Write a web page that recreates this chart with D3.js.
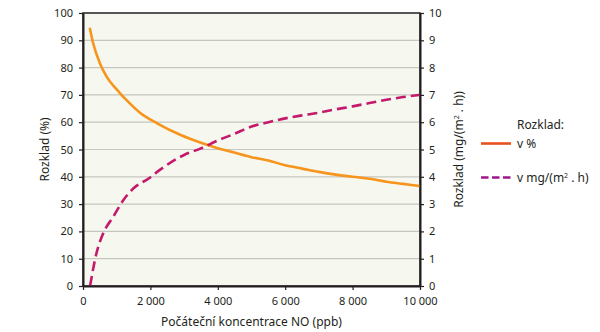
<!DOCTYPE html>
<html>
<head>
<meta charset="utf-8">
<script src="https://cdn.jsdelivr.net/npm/d3@7"></script>
<style>
  body { margin: 0; background: #fff; }
  text { font-family: "Noto Sans", sans-serif; fill: #231f20; }
  .axis text { font-size: 11px; }
  .axis path, .axis line { stroke: #231f20; }
</style>
</head>
<body>
<div id="chart"></div>
<script>
// concentration of NO (ppb) vs decomposition in %
var pctX   = [200, 300, 500, 700, 1000, 1100, 1300, 1700, 2200, 2900, 3500, 4000, 4400, 5000, 5500, 6000, 6500, 7000, 7500, 8000, 8500, 9000, 9500, 10000];
var pctY   = [94.6, 89, 81.6, 76.7, 72, 70.6, 68, 63.4, 59.6, 55.3, 52.5, 50.5, 49.2, 47.2, 46, 44.2, 43, 41.8, 40.8, 40, 39.3, 38.2, 37.4, 36.6];

// same concentrations vs decomposition in mg/(m2.h)
var rateX  = [210, 400, 600, 900, 1200, 1500, 1950, 2300, 3000, 3500, 4000, 4500, 5000, 5500, 6000, 6500, 7000, 7500, 8000, 8500, 9000, 9500, 10000];
var rateY  = [0, 1.2, 1.93, 2.54, 3.15, 3.58, 3.94, 4.27, 4.8, 5.04, 5.33, 5.58, 5.84, 6.0, 6.14, 6.25, 6.35, 6.47, 6.58, 6.7, 6.82, 6.92, 7.0];

var xTicks     = [0, 2000, 4000, 6000, 8000, 10000];
var leftTicks  = [0, 10, 20, 30, 40, 50, 60, 70, 80, 90, 100];
var rightTicks = [0, 1, 2, 3, 4, 5, 6, 7, 8, 9, 10];

var width = 600, height = 332;
var margin = {top: 13, right: 180, bottom: 46, left: 83};

var svg = d3.select("#chart").append("svg")
    .attr("width", width)
    .attr("height", height);

var x = d3.scaleLinear().domain([0, 10000]).range([margin.left, width - margin.right]);
var yL = d3.scaleLinear().domain([0, 100]).range([height - margin.bottom, margin.top]);
var yR = d3.scaleLinear().domain([0, 10]).range([height - margin.bottom, margin.top]);

var fmt = function(d) { return d3.format(",")(d).replace(/,/g, " "); };

// plot background
svg.append("rect")
    .attr("x", x(0)).attr("y", yL(100))
    .attr("width", x(10000) - x(0))
    .attr("height", yL(0) - yL(100))
    .attr("fill", "#f6f8ef");

// horizontal gridlines
svg.append("g")
    .selectAll("line")
    .data(leftTicks.slice(1, -1))
    .join("line")
    .attr("x1", x(0)).attr("x2", x(10000))
    .attr("y1", function(d) { return yL(d); })
    .attr("y2", function(d) { return yL(d); })
    .attr("stroke", "#c6c6c0")
    .attr("stroke-width", 1.2);

// frame
svg.append("rect")
    .attr("x", x(0)).attr("y", yL(100))
    .attr("width", x(10000) - x(0))
    .attr("height", yL(0) - yL(100))
    .attr("fill", "none")
    .attr("stroke", "#231f20")
    .attr("stroke-width", 1.5);

// curves
svg.append("path")
    .datum(d3.zip(pctX, pctY))
    .attr("fill", "none")
    .attr("stroke", "#f7941d")
    .attr("stroke-width", 2.6)
    .attr("d", d3.line()
          .curve(d3.curveMonotoneX)
          .x(function(d) { return x(d[0]); })
          .y(function(d) { return yL(d[1]); }));

svg.append("path")
    .datum(d3.zip(rateX, rateY))
    .attr("fill", "none")
    .attr("stroke", "#c41a6b")
    .attr("stroke-width", 2.6)
    .attr("stroke-dasharray", "10,5")
    .attr("d", d3.line()
          .curve(d3.curveMonotoneX)
          .x(function(d) { return x(d[0]); })
          .y(function(d) { return yR(d[1]); }));

// axes
svg.append("g")
    .attr("class", "axis")
    .attr("transform", "translate(0," + yL(0) + ")")
    .call(d3.axisBottom(x).tickValues(xTicks).tickFormat(fmt).tickSize(4).tickSizeOuter(0).tickPadding(7))
    .call(function(g) { g.select(".domain").attr("stroke-width", 2); });

svg.append("g")
    .attr("class", "axis")
    .attr("transform", "translate(" + x(0) + ",0)")
    .call(d3.axisLeft(yL).tickValues(leftTicks).tickSize(4).tickSizeOuter(0).tickPadding(6))
    .call(function(g) { g.select(".domain").attr("stroke-width", 2); });

svg.append("g")
    .attr("class", "axis")
    .attr("transform", "translate(" + x(10000) + ",0)")
    .call(d3.axisRight(yR).tickValues(rightTicks).tickSize(4).tickSizeOuter(0).tickPadding(5))
    .call(function(g) { g.select(".domain").attr("stroke-width", 2); });

svg.selectAll(".axis .tick line").attr("stroke-width", 1.2);

// axis titles
svg.append("text")
    .attr("x", (x(0) + x(10000)) / 2)
    .attr("y", 326)
    .attr("text-anchor", "middle")
    .style("font-size", "12px")
    .text("Počáteční koncentrace NO (ppb)");

svg.append("text")
    .attr("transform", "translate(49," + (yL(50)) + ") rotate(-90)")
    .attr("text-anchor", "middle")
    .style("font-size", "12px")
    .text("Rozklad (%)");

var rt = svg.append("text")
    .attr("transform", "translate(463," + (yL(50)) + ") rotate(-90)")
    .attr("text-anchor", "middle")
    .style("font-size", "12px");
rt.append("tspan").text("Rozklad (mg/(m");
rt.append("tspan").attr("dy", -4).style("font-size", "7px").text("2");
rt.append("tspan").attr("dy", 4).text(" . h))");

// legend
svg.append("text")
    .attr("x", 517).attr("y", 129)
    .style("font-size", "12px")
    .text("Rozklad:");

svg.append("line")
    .attr("x1", 481).attr("x2", 511)
    .attr("y1", 143.5).attr("y2", 143.5)
    .attr("stroke", "#e8511f")
    .attr("stroke-width", 2.6);
svg.append("text")
    .attr("x", 517).attr("y", 148)
    .style("font-size", "12px")
    .text("v %");

svg.append("line")
    .attr("x1", 481).attr("x2", 511)
    .attr("y1", 177.5).attr("y2", 177.5)
    .attr("stroke", "#a0168c")
    .attr("stroke-width", 2.6)
    .attr("stroke-dasharray", "7.5,3.5");
var lt = svg.append("text")
    .attr("x", 517).attr("y", 182)
    .style("font-size", "12px");
lt.append("tspan").text("v mg/(m");
lt.append("tspan").attr("dy", -4).style("font-size", "7px").text("2");
lt.append("tspan").attr("dy", 4).text(" . h)");
</script>
</body>
</html>
